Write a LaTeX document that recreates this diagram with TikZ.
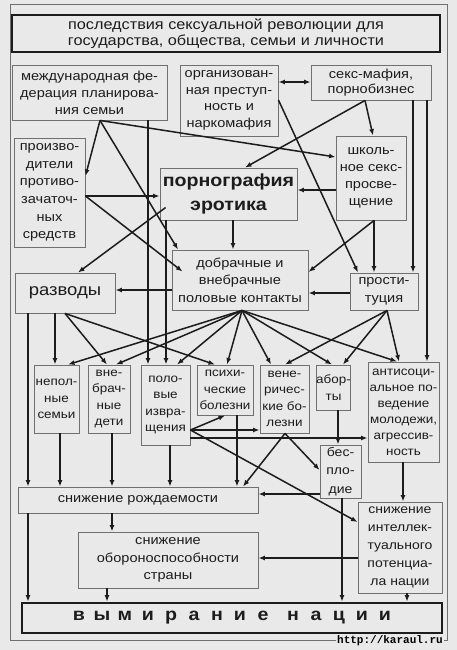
\documentclass[tikz,border=0pt]{standalone}
\usepackage{fontspec}
\setmainfont{Liberation Sans}[FakeStretch=1.12]
\newfontfamily\urlfont{Liberation Mono}
\usetikzlibrary{arrows.meta,calc}
\definecolor{paper}{HTML}{E9E9E9}
\definecolor{ink}{HTML}{1C1C1C}
\definecolor{edge}{HTML}{707070}
\newcommand\vmL[1]{\makebox[23pt]{#1}}
\tikzset{
  box/.style={draw=edge, line width=0.9pt, inner sep=0pt, align=center, text=ink, font=\fontsize{13}{17}\selectfont},
  smallbox/.style={box, font=\fontsize{12}{16.5}\selectfont},
  arr/.style={draw=ink, line width=1.5pt, -{Latex[length=6.5pt,width=5pt]}},
  darr/.style={draw=ink, line width=1.5pt, {Latex[length=6.5pt,width=5pt]}-{Latex[length=6.5pt,width=5pt]}},
}
\begin{document}
\begin{tikzpicture}[x=1pt,y=-1pt]
\useasboundingbox (0,0) rectangle (457,650);
\fill[paper] (0,0) rectangle (457,650);
\draw[edge, line width=0.8pt] (10,4) rectangle (447,640);

% boxes
\node[box, draw=ink, line width=1.4pt, minimum width=428pt, minimum height=37pt, font=\fontsize{14.5}{15.5}\selectfont] (title) at (226,33.5) {последствия сексуальной революции для\\государства, общества, семьи и личности};
\node[box, minimum width=155pt, minimum height=55pt] (mfps) at (89.5,92.5) {международная фе-\\дерация планирова-\\ния семьи};
\node[box, minimum width=98pt, minimum height=71pt, font=\fontsize{13}{16.5}\selectfont] (org) at (229,100.5) {организован-\\ная преступ-\\ность и\\наркомафия};
\node[box, minimum width=120pt, minimum height=35pt, font=\fontsize{13}{15}\selectfont] (mafia) at (371,82.5) {секс-мафия,\\порнобизнес};
\node[box, minimum width=70pt, minimum height=84pt] (shk) at (371,178) {школь-\\ное секс-\\просве-\\щение};
\node[box, minimum width=71pt, minimum height=109pt, font=\fontsize{13}{17.6}\selectfont] (proiz) at (49.5,192.5) {произво-\\дители\\противо-\\зачаточ-\\ных\\средств};
\node[box, minimum width=137pt, minimum height=52pt, font=\fontsize{17.5}{24}\selectfont\bfseries] (porn) at (228.5,194) {порнография\\эротика};
\node[box, minimum width=136pt, minimum height=60pt, font=\fontsize{13}{17.5}\selectfont] (dob) at (240,280) {добрачные и\\внебрачные\\половые контакты};
\node[box, minimum width=100pt, minimum height=40pt, font=\fontsize{16.5}{20}\selectfont] (razv) at (65,293) {разводы};
\node[box, minimum width=68pt, minimum height=37pt, font=\fontsize{13}{18}\selectfont] (prost) at (384,291.5) {прости-\\туция};
\node[smallbox, minimum width=45pt, minimum height=68pt] (nepol) at (56.5,399) {непол-\\ные\\семьи};
\node[smallbox, minimum width=42pt, minimum height=68pt] (vnebr) at (109,399) {вне-\\брач-\\ные\\дети};
\node[smallbox, minimum width=49pt, minimum height=80pt] (polov) at (165.5,405) {поло-\\вые\\извра-\\щения};
\node[smallbox, minimum width=56pt, minimum height=50pt] (psih) at (225,390) {психи-\\ческие\\болезни};
\node[smallbox, minimum width=49pt, minimum height=68pt] (vener) at (284.5,399) {вене-\\ричес-\\кие бо-\\лезни};
\node[smallbox, minimum width=31pt, minimum height=45pt] (abort) at (333.5,387.5) {абор-\\ты};
\node[smallbox, minimum width=71pt, minimum height=100pt, font=\fontsize{12}{16}\selectfont] (anti) at (403.5,412) {антисоци-\\альное по-\\ведение\\молодежи,\\агрессив-\\ность};
\node[smallbox, minimum width=41pt, minimum height=53pt, font=\fontsize{12.5}{18.5}\selectfont] (bespl) at (340.5,471.5) {бес-\\пло-\\дие};
\node[box, minimum width=240pt, minimum height=26pt] (rozhd) at (138,500) {снижение рождаемости};
\node[box, minimum width=84pt, minimum height=91pt, font=\fontsize{12.5}{18}\selectfont] (intel) at (400,547.5) {снижение\\интеллек-\\туального\\потенциа-\\ла нации};
\node[box, minimum width=180pt, minimum height=56pt, font=\fontsize{13}{17.5}\selectfont] (obor) at (168,560) {снижение\\обороноспособности\\страны};
\node[box, draw=ink, line width=2.8pt, minimum width=420pt, minimum height=30pt, font=\fontsize{17.5}{20}\selectfont\bfseries] (vym) at (232,618) {\vmL{в}\vmL{ы}\vmL{м}\vmL{и}\vmL{р}\vmL{а}\vmL{н}\vmL{и}\vmL{е}\hspace{7pt}\vmL{н}\vmL{а}\vmL{ц}\vmL{и}\vmL{и}};
\node[fill=paper, inner sep=1pt, text=black, font=\urlfont\fontsize{11}{12}\selectfont\bfseries] (url) at (390,641) {http://karaul.ru};

% connectors
\draw[darr] (org.east |- 0,82) -- (mafia.west |- 0,82);
\draw[arr] (mfps.south -| 100,0) -- (proiz.east |- 0,176);
\draw[arr] (mfps.south -| 100,0) -- (dob.north -| 178,0);
\draw[arr] (mfps.south -| 100,0) -- (shk.west |- 0,157);
\draw[arr] (mfps.south -| 148,0) -- (polov.north -| 148,0);
\draw[arr] (porn.south -| 166,0) -- (polov.north -| 166,0);
\draw[arr] (proiz.east |- 0,196) -- (porn.west |- 0,196);
\draw[arr] (proiz.east |- 0,196) -- ($(dob.north west)+(11,22)$);
\draw[arr] ($(porn.north west)+(6,40)$) -- (razv.north -| 78,0);
\draw[arr] (mafia.south -| 365,0) -- (porn.north -| 245,0);
\draw[arr] (mafia.south -| 365,0) -- (shk.north -| 373,0);
\draw[arr] (mafia.south -| 413,0) -- (prost.north -| 413,0);
\draw[arr] (mafia.south -| 427,0) -- (anti.north -| 427,0);
\draw[arr] (org.east |- 0,100) -- (prost.north -| 358,0);
\draw[arr] (shk.west |- 0,190) -- (porn.east |- 0,190);
\draw[arr] (shk.south -| 374,0) -- (prost.north -| 374,0);
\draw[arr] (shk.south -| 374,0) -- (dob.east |- 0,272);
\draw[arr] (porn.south -| 233,0) -- (dob.north -| 233,0);
\draw[arr] (prost.west |- 0,293) -- (dob.east |- 0,293);
\draw[arr] (dob.west |- 0,290) -- (razv.east |- 0,290);
\draw[arr] (razv.south -| 28,0) -- (rozhd.north -| 28,0);
\draw[arr] (razv.south -| 55,0) -- (nepol.north -| 55,0);
\draw[arr] (razv.south -| 65,0) -- (vnebr.north -| 107,0);
\draw[arr] (razv.south -| 65,0) -- (psih.north -| 215,0);
\foreach \n/\x in {nepol/68, vnebr/116, polov/177, psih/227, vener/271, abort/332, anti/397}
  \draw[arr] (dob.south -| 242,0) -- (\n.north -| \x,0);
\foreach \n/\x in {vener/285, abort/343, anti/399}
  \draw[arr] (prost.south -| 387,0) -- (\n.north -| \x,0);
\draw[arr] (nepol.south -| 60,0) -- (rozhd.north -| 60,0);
\draw[arr] (vnebr.south -| 112,0) -- (rozhd.north -| 112,0);
\draw[arr] (polov.south -| 170,0) -- (rozhd.north -| 170,0);
\draw[arr] (polov.east |- 0,430) -- (psih.south -| 225,0);
\draw[arr] (polov.east |- 0,430) -- (vener.west |- 0,430);
\draw[arr] (polov.east |- 0,430) -- (intel.west |- 0,522);
\draw[arr] (polov.east |- 0,438) -- (anti.west |- 0,438);
\draw[arr] (psih.south -| 237,0) -- (rozhd.north -| 237,0);
\draw[arr] (vener.south -| 285,0) -- (rozhd.north -| 243,0);
\draw[arr] (vener.south -| 285,0) -- (bespl.west |- 0,470);
\draw[arr] (abort.south -| 338,0) -- (bespl.north -| 338,0);
\draw[arr] (bespl.west |- 0,494) -- (rozhd.east |- 0,494);
\draw[arr] (bespl.south -| 342,0) -- (vym.north -| 342,0);
\draw[arr] (anti.south -| 403,0) -- (intel.north -| 403,0);
\draw[arr] (intel.west |- 0,558) -- (obor.east |- 0,558);
\draw[arr] (intel.south -| 407,0) -- (vym.north -| 407,0);
\draw[arr] (rozhd.south -| 112,0) -- (obor.north -| 112,0);
\draw[arr] (obor.south -| 107,0) -- (vym.north -| 107,0);
\draw[arr] (rozhd.south -| 28,0) -- (vym.north -| 28,0);
\end{tikzpicture}
\end{document}
